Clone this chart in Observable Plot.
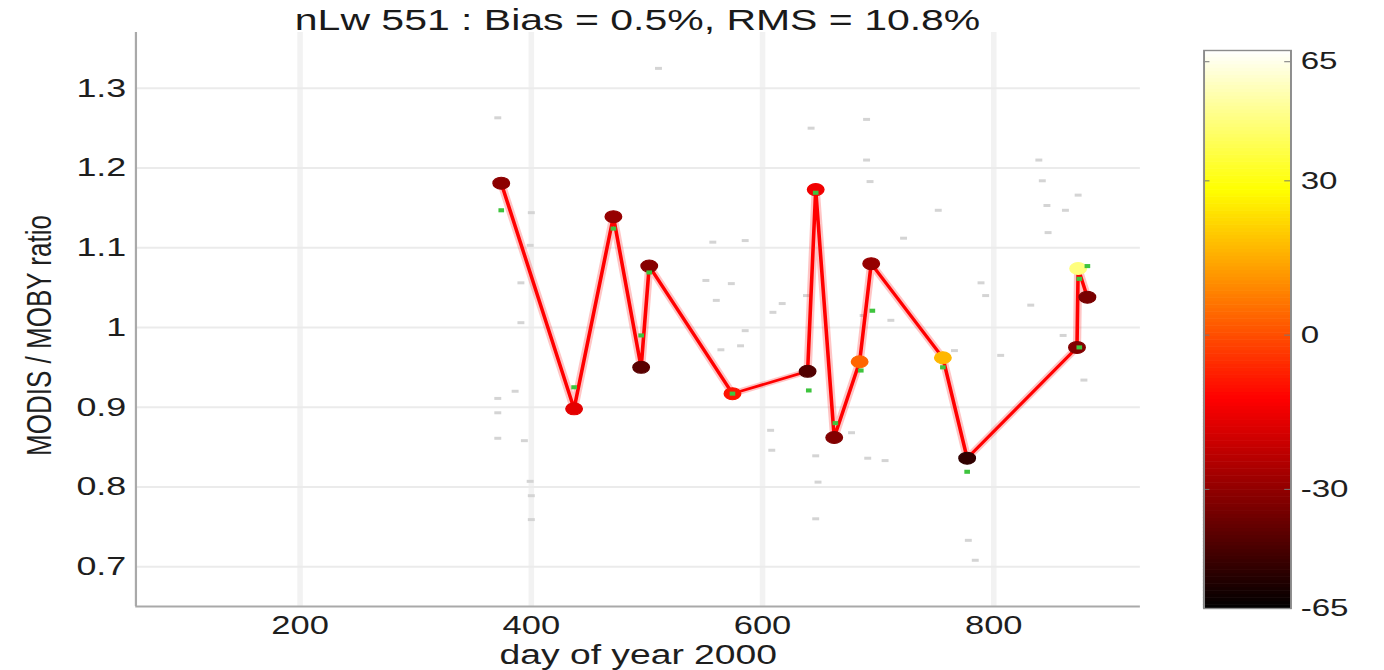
<!DOCTYPE html>
<html>
<head>
<meta charset="utf-8">
<script src="https://cdn.jsdelivr.net/npm/d3@7"></script>
<script src="https://cdn.jsdelivr.net/npm/@observablehq/plot@0.6"></script>
<style>
  html, body { margin: 0; padding: 0; background: #fff; }
  #wrap { position: relative; width: 1003px; height: 670px; transform: scaleX(1.38); transform-origin: 0 0; font-family: "Liberation Sans", Arial, sans-serif; }
  #title { position: absolute; left: 0; top: 5px; width: 924px; text-align: center; font-size: 29.7px; line-height: 30px; color: #1a1a1a; white-space: nowrap; }
  #main { position: absolute; left: 0; top: 0; }
  #cbar { position: absolute; left: 840px; top: 0; }
</style>
</head>
<body>
<div id="wrap">
  <div id="main"></div>
  <div id="cbar"></div>
  <div id="title">nLw 551 : Bias = 0.5%, RMS = 10.8%</div>
</div>
<script>
// ---- data ----
const days   = [374, 437, 471, 495, 502, 574, 639, 646, 662, 684, 694, 756, 777, 872, 873, 881];
const ratios = [1.181, 0.898, 1.139, 0.950, 1.077, 0.917, 0.945, 1.173, 0.862, 0.957, 1.080, 0.962, 0.836, 0.975, 1.074, 1.038];
const colorVals = [-31, -15, -29, -42, -32, -8, -44, -13, -33, 3, -29, 15, -52, -33, 46, -35];

const greenDays   = [374, 437, 471, 495, 502, 574, 640, 646, 663, 685, 695, 756, 777, 874, 874, 881];
const greenRatios = [1.147, 0.925, 1.124, 0.990, 1.069, 0.917, 0.921, 1.169, 0.880, 0.946, 1.021, 0.950, 0.819, 0.975, 1.061, 1.077];

const grayDays   = [371, 510, 400, 399, 391, 391, 386, 371, 371, 394, 399, 400, 400, 371,
                    585, 557, 551, 573, 560, 585, 581, 564, 609, 617, 638, 642, 607, 608, 646, 648, 646,
                    677, 691, 706, 687, 690, 690, 693, 711, 722, 752, 766, 789, 793, 806,
                    839, 842, 846, 847, 862, 832, 860, 878, 778, 784, 873];
const grayRatios = [1.263, 1.325, 1.144, 1.103, 1.056, 1.006, 0.920, 0.911, 0.861, 0.858, 0.807, 0.789, 0.759, 0.893,
                    1.109, 1.107, 1.059, 1.055, 1.034, 0.996, 0.977, 0.972, 1.019, 1.030, 1.040, 1.250, 0.871, 0.846, 0.839, 0.806, 0.760,
                    0.868, 0.836, 0.833, 1.015, 1.261, 1.210, 1.183, 1.009, 1.112, 1.147, 0.971, 1.056, 1.040, 0.965,
                    1.210, 1.184, 1.153, 1.119, 1.147, 1.028, 0.990, 0.934, 0.733, 0.708, 1.166];

const xTicks = [200, 400, 600, 800];
const yTicks = [0.7, 0.8, 0.9, 1.0, 1.1, 1.2, 1.3];
const yTickLabels = ["0.7", "0.8", "0.9", "1", "1.1", "1.2", "1.3"];
const cbTicks = [-65, -30, 0, 30, 65];
const cbTickLabels = ["-65", "-30", "0", "30", "65"];

const title = "nLw 551 : Bias = 0.5%, RMS = 10.8%";
const xLabel = "day of year 2000";
const yLabel = "MODIS / MOBY ratio";

// ---- tables ----
const pts = days.map((d, i) => ({day: d, ratio: ratios[i], c: colorVals[i]}));
const greens = greenDays.map((d, i) => ({day: d, ratio: greenRatios[i]}));
const grays = grayDays.map((d, i) => ({day: d, ratio: grayRatios[i]}));

// MATLAB "hot" colormap
function hot(t) {
  const cl = v => Math.max(0, Math.min(1, v));
  const r = cl(t / 0.375), g = cl((t - 0.375) / 0.375), b = cl((t - 0.75) / 0.25);
  return `rgb(${Math.round(r*255)},${Math.round(g*255)},${Math.round(b*255)})`;
}
const colorDomain = [-65, 69];
const colorOpts = {type: "symlog", constant: 50, domain: colorDomain, interpolate: hot};

const font = "Liberation Sans, Arial, sans-serif";

const main = Plot.plot({
  width: 840, height: 670,
  marginLeft: 98, marginRight: 14, marginTop: 32, marginBottom: 64,
  style: {fontFamily: font, fontSize: "26px", color: "#1e1e1e", background: "transparent", overflow: "visible"},
  x: {domain: [58, 927], label: null},
  y: {domain: [0.65, 1.37], label: null},
  color: colorOpts,
  marks: [
    Plot.gridX(xTicks, {stroke: "#f2f2f2", strokeOpacity: 1, strokeWidth: 4}),
    Plot.gridY(yTicks, {stroke: "#ebebeb", strokeOpacity: 1, strokeWidth: 2}),
    Plot.link(grays, {x1: d => d.day - 3, x2: d => d.day + 3, y1: "ratio", y2: "ratio", stroke: "#d4d4d4", strokeWidth: 3}),
    Plot.ruleX([58], {stroke: "#a9a9a9", strokeWidth: 1.6}),
    Plot.ruleY([0.65], {stroke: "#a9a9a9", strokeWidth: 2}),
    Plot.axisX({ticks: xTicks, tickSize: 0, tickPadding: 10, tickFormat: d => String(d), fontSize: 25, label: null}),
    Plot.axisY({ticks: yTicks, tickSize: 0, tickPadding: 7, tickFormat: d => yTickLabels[yTicks.indexOf(d)], fontSize: 26, label: null}),
    Plot.line(pts, {x: "day", y: "ratio", stroke: "#ff4040", strokeOpacity: 0.3, strokeWidth: 6}),
    Plot.line(pts, {x: "day", y: "ratio", stroke: "#ff0000", strokeWidth: 2.6}),
    Plot.dot(pts, {x: "day", y: "ratio", r: 6, fill: "c", stroke: "c", strokeWidth: 1}),
    Plot.dot(greens, {x: "day", y: "ratio", symbol: "square", r: 2.3, fill: "#3ec43e"}),
    Plot.text([xLabel], {frameAnchor: "bottom", dy: 49, fontSize: 27, fill: "#1e1e1e", lineAnchor: "middle"}),
    Plot.text([yLabel], {frameAnchor: "left", textAnchor: "middle", dx: -70, dy: 16, rotate: -90, fontSize: 26, fill: "#1e1e1e"})
  ]
});
document.getElementById("main").appendChild(main);

// colorbar ramp (legend construction, linear in colour position)
const sym = d3.scaleSymlog().constant(50).domain(colorDomain).range([0, 1]);
const N = 160;
const ramp = d3.range(N).map(i => ({
  lo: sym.invert(i / N), hi: sym.invert((i + 1) / N), mid: sym.invert((i + 0.5) / N)
}));

const cbar = Plot.plot({
  width: 163, height: 670,
  marginLeft: 32, marginRight: 68, marginTop: 50, marginBottom: 62,
  style: {fontFamily: font, fontSize: "24px", color: "#1e1e1e", background: "transparent", overflow: "visible"},
  x: {domain: [0, 1], axis: null},
  y: {type: "symlog", constant: 50, domain: colorDomain, axis: null},
  color: colorOpts,
  marks: [
    Plot.rect(ramp, {x1: 0, x2: 1, y1: "lo", y2: "hi", fill: "mid", inset: -0.3}),
    Plot.ruleY(cbTicks, {x1: 0, x2: 0.07, stroke: "#777", strokeWidth: 1}),
    Plot.ruleY(cbTicks, {x1: 0.93, x2: 1, stroke: "#777", strokeWidth: 1}),
    Plot.frame({stroke: "#8c8c8c", strokeWidth: 1.4}),
    Plot.axisY({anchor: "right", ticks: cbTicks, tickSize: 0, tickPadding: 7, tickFormat: d => cbTickLabels[cbTicks.indexOf(d)], fontSize: 24, label: null})
  ]
});
document.getElementById("cbar").appendChild(cbar);
</script>
</body>
</html>
